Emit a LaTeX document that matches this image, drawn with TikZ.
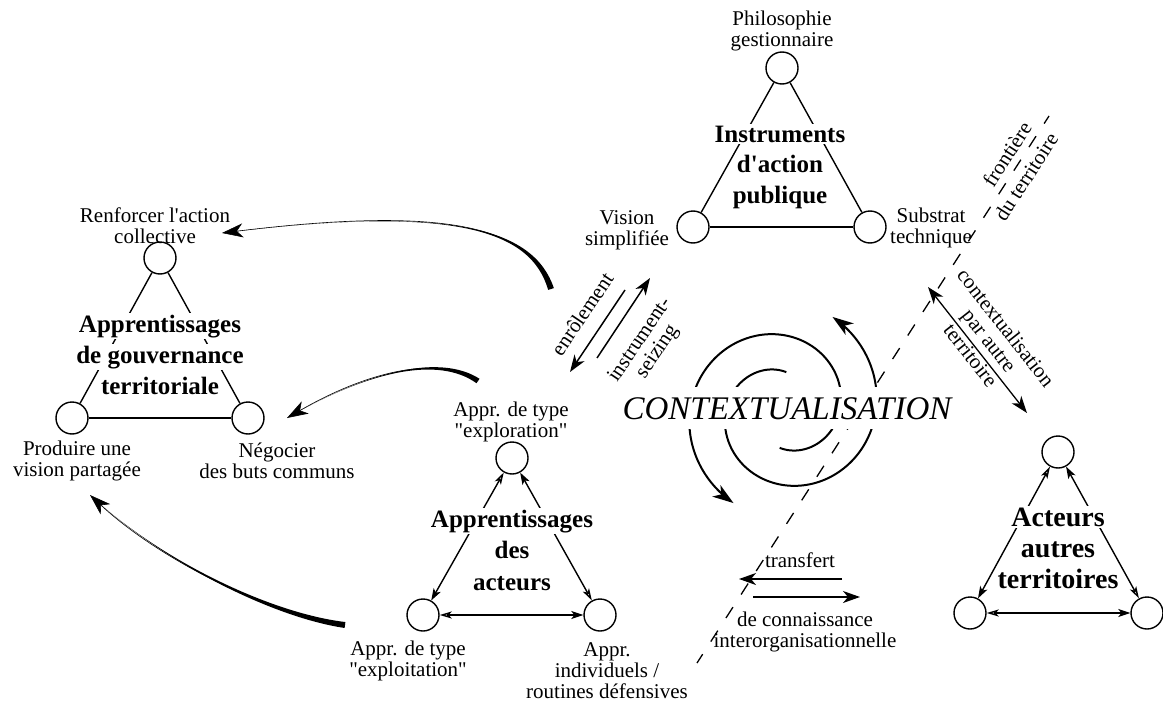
\documentclass[tikz,border=0pt]{standalone}
\usepackage{fontspec}
\setmainfont{Liberation Serif}[Ligatures=TeXOff]
\usetikzlibrary{arrows.meta,calc}

\tikzset{
  cercle/.style={circle,draw,line width=1.4pt,minimum size=32pt,inner sep=0pt},
  etiq/.style={font=\fontsize{21}{21}\selectfont,align=center,inner sep=1pt},
  titre/.style={font=\fontsize{25}{30}\selectfont\bfseries,fill=white,inner sep=1.5pt,anchor=base},
  titreg/.style={titre,font=\fontsize{28}{32}\selectfont\bfseries},
  trait/.style={line width=1.4pt},
  pleine/.tip={Stealth[length=12pt,width=8pt,inset=3pt]},
  vide/.tip={Stealth[open,length=12pt,width=7pt,inset=3pt]},
  grande/.tip={Stealth[length=21pt,width=14pt,inset=6pt]},
  moyenne/.tip={Stealth[length=17pt,width=12pt,inset=5pt]},
}

\begin{document}
\begin{tikzpicture}[x=1pt,y=-1pt]
\useasboundingbox (0,0) rectangle (1163,704);

% instruments d'action publique
\node[cercle] (philo) at (782,68) {};
\node[cercle] (vision) at (693,227) {};
\node[cercle] (substrat) at (870,227) {};
\draw[trait] (philo) -- (vision);
\draw[trait] (vision) -- (substrat);
\draw[trait] (substrat) -- (philo);
\node[titre] (instr1) at (780,142) {Instruments};
\node[titre] (instr2) at (780,172) {d'action};
\node[titre] (instr3) at (780,203) {publique};
\node[etiq] (lphilo) at (782,31) {Philosophie\\gestionnaire};
\node[etiq] (lvision) at (627,230) {Vision\\simplifiée};
\node[etiq] (lsubstrat) at (931,228) {Substrat\\technique};

% apprentissages de gouvernance territoriale
\node[cercle] (renf) at (160,258) {};
\node[cercle] (prod) at (72,418) {};
\node[cercle] (nego) at (248,418) {};
\draw[trait] (renf) -- (prod);
\draw[trait] (prod) -- (nego);
\draw[trait] (nego) -- (renf);
\node[titre] (gouv1) at (160,332) {Apprentissages};
\node[titre] (gouv2) at (160,363) {de gouvernance};
\node[titre] (gouv3) at (160,394) {territoriale};
\node[etiq] (lrenf) at (155,226) {Renforcer l'action\\collective};
\node[etiq] (lprod) at (77,461) {Produire une\\vision partagée};
\node[etiq] (lnego) at (277,461) {Négocier\\des buts communs};

% apprentissages des acteurs
\node[cercle] (explo) at (512,458) {};
\node[cercle] (exploit) at (423,615) {};
\node[cercle] (indiv) at (600,615) {};
\draw[trait,{vide}-{pleine}] (explo) -- (exploit);
\draw[trait,{pleine}-{vide}] (explo) -- (indiv);
\draw[trait,{vide}-{pleine}] (exploit) -- (indiv);
\node[titre] (act1) at (512,527) {Apprentissages};
\node[titre] (act2) at (512,558) {des};
\node[titre] (act3) at (512,590) {acteurs};
\node[etiq] (lexplo) at (511,422) {Appr. de type\\"exploration"};
\node[etiq] (lexploit) at (408,661) {Appr. de type\\"exploitation"};
\node[etiq] (lindiv) at (607,671) {Appr.\\individuels /\\routines défensives};

% acteurs autres territoires
\node[cercle] (autreh) at (1058,452) {};
\node[cercle] (autreg) at (970,613) {};
\node[cercle] (autred) at (1147,613) {};
\draw[trait,{vide}-{pleine}] (autreh) -- (autreg);
\draw[trait,{pleine}-{vide}] (autreh) -- (autred);
\draw[trait,{vide}-{pleine}] (autreg) -- (autred);
\node[titreg] (aut1) at (1058,526) {Acteurs};
\node[titreg] (aut2) at (1058,557) {autres};
\node[titreg] (aut3) at (1058,588) {territoires};

% fleches effilees vers la gouvernance
\coordinate (f1a) at (551,289);
\coordinate (f1c) at (532,228);
\coordinate (f1d) at (450,205);
\coordinate (f1b) at (222,233);
\fill ($(f1a)!3pt!90:(f1c)$) .. controls ($(f1c)!1.5pt!-90:(f1a)$) and (f1d) .. (f1b)
  .. controls (f1d) and ($(f1c)!1.5pt!90:(f1a)$) .. ($(f1a)!3pt!-90:(f1c)$) -- cycle;
\draw[line width=0.6pt,-{grande}] (f1a) .. controls (f1c) and (f1d) .. (f1b);

\coordinate (f2a) at (478,381);
\coordinate (f2c) at (440,355);
\coordinate (f2d) at (370,370);
\coordinate (f2b) at (287,418);
\fill ($(f2a)!2.7pt!90:(f2c)$) .. controls ($(f2c)!1.4pt!-90:(f2a)$) and (f2d) .. (f2b)
  .. controls (f2d) and ($(f2c)!1.4pt!90:(f2a)$) .. ($(f2a)!2.7pt!-90:(f2c)$) -- cycle;
\draw[line width=0.6pt,-{grande}] (f2a) .. controls (f2c) and (f2d) .. (f2b);

\coordinate (f3a) at (345,625);
\coordinate (f3c) at (270,615);
\coordinate (f3d) at (160,560);
\coordinate (f3b) at (90,495);
\fill ($(f3a)!3pt!90:(f3c)$) .. controls ($(f3c)!1.8pt!-90:(f3a)$) and (f3d) .. (f3b)
  .. controls (f3d) and ($(f3c)!1.8pt!90:(f3a)$) .. ($(f3a)!3pt!-90:(f3c)$) -- cycle;
\draw[line width=0.6pt,-{grande}] (f3a) .. controls (f3c) and (f3d) .. (f3b);

% enrolement / instrument-seizing
\coordinate (en1) at (625,290);
\coordinate (en2) at (570,372);
\coordinate (is1) at (597,358);
\coordinate (is2) at (650,278);
\draw[line width=1.5pt,-{moyenne}] (en1) -- (en2);
\draw[line width=1.5pt,-{moyenne}] (is1) -- (is2);
\node[etiq,rotate=56] (enrol) at (582,314) {enrôlement};
\node[etiq,rotate=56] (seiz) at (649,346) {instrument-\\seizing};

% frontiere du territoire
\coordinate (fr1) at (1049,116);
\coordinate (fr2) at (697,663);
\draw[line width=1.3pt,dash pattern=on 13pt off 15pt,dash phase=4pt] (fr1) -- (fr2);
\node[etiq,rotate=57.2] (front) at (1007,154) {frontière};
\node[etiq,rotate=57.2] (duterr) at (1026,177) {du territoire};

% contextualisation par autre territoire
\coordinate (ct1) at (928,287);
\coordinate (ct2) at (1027,413);
\draw[line width=1.3pt,{moyenne}-{moyenne}] (ct1) -- (ct2)
  node[etiq,midway,sloped,above=2pt] (ctxa) {contextualisation\\par autre}
  node[etiq,midway,sloped,below=0pt] (ctxb) {territoire};

% transfert de connaissance
\coordinate (tr1) at (842,579);
\coordinate (tr2) at (739,579);
\coordinate (tr3) at (753,597);
\coordinate (tr4) at (860,597);
\draw[line width=1.5pt,-{moyenne}] (tr1) -- (tr2);
\draw[line width=1.5pt,-{moyenne}] (tr3) -- (tr4);
\node[etiq] (transf) at (800,560) {transfert};
\node[etiq] (connais) at (805,632) {de connaissance\\interorganisationnelle};

% spirale
\draw[line width=2pt,-{grande}] plot[domain=85:422,samples=90,smooth]
  ({783+(38+0.2*(\x-85))*cos(\x)},{410-(38+0.2*(\x-85))*sin(\x)});
\draw[line width=2pt,-{grande}] plot[domain=265:602,samples=90,smooth]
  ({783+(38+0.2*(\x-265))*cos(\x)},{410-(38+0.2*(\x-265))*sin(\x)});
\node[fill=white,inner xsep=3pt,inner ysep=10pt,anchor=base,font=\fontsize{33}{36}\selectfont\itshape] (ctx) at (787,419) {CONTEXTUALISATION};
\end{tikzpicture}
\end{document}
